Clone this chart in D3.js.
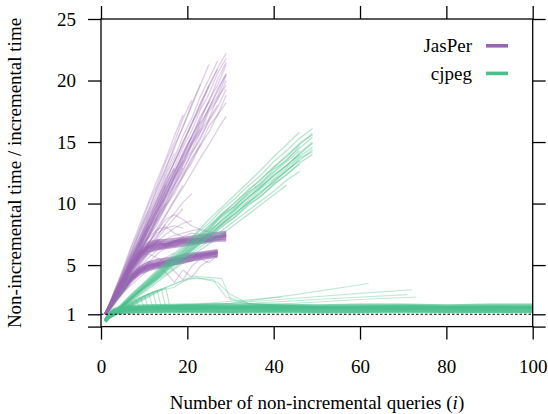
<!DOCTYPE html>
<html><head><meta charset="utf-8">
<script src="https://cdn.jsdelivr.net/npm/d3@7"></script>
<style>
html body svg#c text, html body svg#c tspan { font-family: "Liberation Serif" !important; }
</style>
</head><body style="margin:0;background:#fff">
<svg id="c" width="548" height="414" style="display:block" font-family="Liberation Serif">
<style>svg#c text, svg#c tspan { font-family: "Liberation Serif" !important; }</style>
</svg>
<script>
// ---------- data ----------
const xTicks = [0, 20, 40, 60, 80, 100];
const yTicks = [0, 1, 5, 10, 15, 20, 25];
const seriesNames = ["JasPer", "cjpeg"];

// JasPer runs sampled at these query counts
const jasperX = [1,3,5,7,9,11,13,15,17,19,21,23,25,27,29];
const jasperSteep = [
  [1,2.3,3.4,4.8,5.9,7.3,8.3,9.8,10.8,12.2,13.3,14.7,15.8,17.2,18.2],
  [1,2.2,3.7,4.8,6.3,7.4,8.9,10.0,11.5,12.6,14.1,15.2,16.7,17.8,19.3],
  [1,2.4,3.6,5.1,6.3,7.8,8.9,10.5,11.6,13.2,14.3,15.8,16.9,18.6,19.6],
  [1,2.3,3.9,5.0,6.6,7.8,9.4,10.5,12.1,13.3,14.9,16.0,17.7,18.7,20.4],
  [1,2.5,3.7,5.3,6.5,8.1,9.3,10.9,12.1,13.7,14.8,16.5,17.7,19.3,20.5],
  [1,2.4,3.9,5.3,6.8,8.1,9.7,11.0,12.6,13.9,15.5,16.7,18.4,19.6,21.3],
  [1,2.5,3.8,5.5,6.7,8.4,9.5,11.3,12.4,14.2,15.4,17.1,18.2,20.1,21.5],
  [1,2.6,3.9,5.6,6.9,8.6,9.9,11.6,12.9,14.6,15.9,17.6,18.9,20.6,21.8],
  [1,2.5,4.2,5.5,7.3,8.6,10.3,11.7,13.4,14.8,16.5,17.8,19.6,20.9],
  [1,2.7,4.1,5.9,7.3,9.1,10.5,12.3,13.7,15.5,16.9,18.7,20.1,21.6],
  [1,2.6,4.5,6.0,7.9,9.4,11.3,12.8,14.7,16.2,18.1,19.6,21.3],
  [1,2.8,4.4,6.4,8.0,9.9,11.5,13.4,15.0,16.9,18.4],
  [1,2.4,3.6,5.2,6.3,8.0,9.0,10.6,11.9,13.1,14.7,15.8,17.5,18.4,20.0],
  [1,2.2,3.6,4.7,6.1,7.2,8.6,9.7,11.2,12.2,13.7,14.7,16.3,17.2,18.8],
  [1,2.5,3.8,5.3,6.6,8.2,9.4,11.0,12.3,13.8,15.1,16.7],
  [1,2.6,4.0,5.8,7.1,8.9,10.2,12.0,13.3,15.0,16.4,18.1,19.5,21.0,22.2],
  [1,2.3,3.7,5.0,6.3,7.6,9.0,10.3,11.6,12.9],
  [1,2.5,4.0,5.4,7.0,8.4,9.9,11.4,12.8],
  [1,2.2,3.5,4.9,6.1,7.5,8.7,10.0],
  [1,2.5,4.0,5.6,7.0,8.5,10.0,11.5,12.9],
  [1,2.4,3.8,5.2,6.5,7.9,9.3,10.7,12.2,13.5],
  [1,2.3,3.6,4.9,6.2,7.4,8.8],
  [1,2.6,4.3,5.9,7.6,9.2,10.8,12.5,14.1],
  [1,2.1,3.3,4.5,5.6,6.8,8.0,9.1,10.3,11.5],
  [1,2.4,3.9,5.3,6.8,8.2],
  [1,2.8,4.6,6.5,8.3,10.1,11.9,13.6,15.5,17.2],
  [1,2.3,3.5,4.9,6.0,7.3,8.5,9.9,11.0,12.4,13.5,14.9],
  [1,2.5,3.9,5.4,6.8,8.2,9.7,11.1,12.6,14.0,15.4,16.9,18.3],
  [1,2.3,3.7,5.1,6.4,7.9,9.2,10.7,12.0,13.4,14.8,16.1],
  [1,2.4,3.8,5.3,6.7,8.2,9.6,11.1,12.5,14.0,15.4],
  [1,2.2,3.5,4.8,6.1,7.4,8.8,10.1,11.4,12.8,14.1,15.4,16.8,18.0],
  [1,2.6,4.1,5.7,7.2,8.8,10.3,11.9,13.4,15.0,16.5,18.1,19.6],
  [1,2.1,3.2,4.4,5.5,6.7,7.8,9.0,10.2,11.3,12.5,13.7,14.8,16.0,17.1],
  [1,2.5,3.9,5.5,6.9,8.5,9.9,11.5],
  [1,2.3,3.8,5.1,6.6,7.9,9.4,10.7,12.2,13.5,15.0,16.3,17.8,19.1,20.6],
  [1,2.7,4.3,6.1,7.7,9.5,11.1,12.9,14.5,16.3,17.9,19.7]
];
const jasperUpper = [
  [1,2.3,3.6,4.9,5.9,6.5,6.7,6.7,6.9,7.0,7.0,7.1,7.2,7.3,7.4],
  [1,2.2,3.5,4.7,5.7,6.2,6.4,6.5,6.6,6.8,6.8,6.9,7.0,7.1,7.2],
  [1,2.4,3.8,5.1,6.1,6.8,7.0,7.0,7.1,7.2,7.3,7.4,7.5,7.6,7.7],
  [1,2.3,3.6,4.8,5.8,6.4,6.5,6.6,6.7,6.8,6.9,7.0,7.0,7.2,7.3],
  [1,2.2,3.4,4.6,5.5,6.1,6.3,6.4,6.5,6.6,6.7,6.8,6.9,7.0,7.0],
  [1,2.4,3.7,5.0,6.0,6.6,6.9,6.8,6.9,7.1,7.1,7.2,7.4,7.4,7.6],
  [1,2.3,3.5,4.8,5.9,6.4,6.6,6.7,6.8,6.9,6.9,7.0,7.1,7.3,7.4],
  [1,2.3,3.7,4.9,5.8,6.5,6.8,6.6,6.9,7.0,7.1,7.1,7.3,7.3,7.5]
];
const jasperLower = [
  [1,2.1,3.1,4.0,4.6,4.9,5.1,5.2,5.4,5.5,5.7,5.8,5.9,6.0],
  [1,2.0,2.9,3.8,4.4,4.7,4.9,5.0,5.1,5.3,5.4,5.6,5.7,5.8],
  [1,2.2,3.3,4.2,4.8,5.2,5.4,5.5,5.6,5.8,5.9,6.0,6.1,6.2],
  [1,1.9,2.8,3.7,4.3,4.6,4.8,4.9,5.1,5.2,5.4,5.5,5.6,5.7],
  [1,2.1,3.2,4.1,4.7,5.0,5.2,5.3,5.5,5.6,5.8,5.9,6.0,6.1],
  [1,2.0,3.0,3.9,4.5,4.8,5.0,5.2,5.3,5.4,5.6,5.7,5.9,5.9],
  [1,2.1,3.1,4.0,4.6,5.0,5.1,5.3,5.4,5.5,5.7,5.8,5.9,6.1],
  [1,2.0,3.0,3.9,4.5,4.9,5.0,5.1,5.3,5.5,5.6,5.7,5.8,6.0]
];
const jasperOther = [
  [1,2.0,3.1,4.0,5.1,6.0,7.1,8.0,8.8,9.6],
  [1,2.1,3.2,4.3,5.2,6.4,7.3,8.4,9.2,10.1,10.8],
  [1,2.0,3.0,4.1,4.9,5.3,5.0,4.4,3.6,4.6,4.0,4.9,5.4],
  [1,2.2,3.3,4.4,5.3,5.9,5.6,5.2,4.5,3.8,4.9,5.5,5.2,5.8],
  [1,2.3,3.6,4.9,6.1,7.2,7.9,8.1,7.6,7.3,7.6,7.5],
  [1,2.1,3.4,4.6,5.8,6.8,7.8,8.7,9.1,8.7,8.2,7.9,7.7,7.6],
  [1,2.1,3.2,4.3,5.4,6.5,7.4,8.3],
  [1,2.2,3.4,4.6,5.7,6.8,7.6,8.0,8.2,8.0],
  [1,1.9,2.7,3.4,4.0,4.6,5.2,5.6,6.0],
  [1,2.0,2.9,3.8,4.5,5.2,5.9,6.4,6.9,7.3],
  [1,2.0,3.0,4.0,5.0,5.9,6.6,7.1,7.4,7.6,7.8,7.9],
  [1,2.1,3.2,4.2,5.2,6.1,6.9,7.5,8.0,8.4,8.6],
  [1,1.9,2.9,3.8,4.8,5.6,6.2,6.5,6.6]
];

// cjpeg runs
const cjpegX = [1,4,7,10,13,16,19,22,25,28,31,34,37,40,43,46,49];
const cjpegLinear = [
  [0.5,1.4,2.3,3.1,4.0,4.9,5.7,6.6,7.4,8.3,9.2,10.0,10.9,11.8,12.7,13.5,14.4],
  [0.5,1.5,2.4,3.3,4.3,5.2,6.1,7.1,8.0,9.0,9.8,10.8,11.7,12.6,13.6,14.5,15.4],
  [0.5,1.3,2.1,2.9,3.8,4.5,5.4,6.2,7.0,7.8,8.6,9.4,10.2,11.0,11.9,12.6],
  [0.5,1.5,2.6,3.5,4.5,5.5,6.4,7.5,8.4,9.5,10.4,11.4,12.3,13.4,14.3,15.3,16.1],
  [0.5,1.4,2.3,3.2,4.1,5.0,5.9,6.9,7.7,8.6,9.6,10.4,11.4,12.2,13.1,14.0,14.9],
  [0.5,1.3,2.2,3.0,3.9,4.7,5.6,6.4,7.3,8.1,8.9,9.8,10.6,11.5,12.4,13.2],
  [0.5,1.5,2.5,3.4,4.4,5.3,6.3,7.2,8.2,9.1,10.1,11.0,12.0,12.9,13.9,14.8,15.7],
  [0.5,1.3,2.1,2.8,3.6,4.4,5.2,6.0,6.7,7.5,8.3,9.1,9.9,10.7,11.5],
  [0.5,1.4,2.4,3.2,4.2,5.0,5.8,6.9,7.6,8.7,9.5,10.5,11.3,12.3,13.1,14.1,15.0],
  [0.5,1.5,2.3,3.4,4.2,5.3,6.0,7.2,7.9,9.1,9.8,10.9,11.6,12.8,13.5,14.7],
  [0.5,1.4,2.2,3.2,3.9,5.0,5.6,6.7,7.3,8.4,9.1,10.1,10.8,11.9,12.6,13.7,14.2],
  [0.5,1.6,2.6,3.6,4.6,5.6,6.6,7.6,8.7,9.7,10.7,11.7,12.7,13.8,14.8,15.8],
  [0.5,1.3,2.2,3.1,3.8,4.8,5.5,6.5,7.2,8.2,8.9,9.9,10.6,11.6,12.3,13.3,14.0],
  [0.5,1.4,2.3,3.3,4.1,5.1,5.9,6.8,7.8,8.6,9.5,10.5,11.3,12.3,13.1,14.0],
  [0.5,1.4,2.5,3.5,4.4,5.4,6.2,7.3,8.1,9.2,10.0,11.1,11.9,13.0,13.8,14.9,15.6],
  [0.5,1.3,2.3,3.1,4.0,4.8,5.8,6.5,7.5,8.3,9.2,10.0,11.0,11.7,12.7,13.5],
  [0.5,1.4,2.3,3.2,4.0,5.0,5.8,6.7,7.6,8.4,9.4,10.2,11.2,12.0,12.9,13.8,14.6],
  [0.5,1.4,2.4,3.3,4.3,5.1,6.1,7.0,7.9,8.9,9.7,10.7,11.5,12.5,13.4,14.3]
];
const cjpegFlatX = [1,2,3,5,10,20,30,40,50,60,70,80,90,100];
const cjpegFlat = [
  [0.45,0.9,1.15,1.3,1.4,1.45,1.45,1.4,1.45,1.4,1.45,1.4,1.4,1.45],
  [0.5,1.0,1.25,1.4,1.5,1.55,1.5,1.55,1.5,1.55,1.5,1.5,1.55,1.5],
  [0.4,0.85,1.1,1.2,1.25,1.3,1.25,1.3,1.25,1.25,1.3,1.25,1.25,1.25],
  [0.5,1.05,1.3,1.5,1.6,1.65,1.6,1.65,1.6,1.6,1.65,1.6,1.6,1.6],
  [0.45,0.95,1.2,1.35,1.45,1.5,1.5,1.5,1.5,1.45,1.5,1.5,1.45,1.5],
  [0.55,1.1,1.4,1.6,1.7,1.75,1.75,1.75,1.7,1.75,1.75,1.7,1.75,1.75],
  [0.4,0.8,1.05,1.15,1.2,1.25,1.2,1.25,1.2,1.2,1.25,1.2,1.25,1.2],
  [0.5,1.0,1.25,1.45,1.55,1.6,1.55,1.6,1.55,1.55,1.6,1.55,1.6,1.55]
];
const cjpegFan = [
  [[1,0.5],[5,1.75],[6,1.45],[20,1.5],[50,1.5],[100,1.5]],
  [[1,0.5],[6,1.9],[7,1.5],[25,1.55],[60,1.5],[100,1.55]],
  [[1,0.5],[7,2.05],[8,1.55],[30,1.6],[70,1.55],[100,1.55]],
  [[1,0.5],[8,2.2],[9,1.5],[30,1.5],[100,1.5]],
  [[1,0.5],[9,2.4],[10,1.6],[40,1.6],[100,1.6]],
  [[1,0.5],[10,2.55],[11,1.5],[40,1.5],[100,1.5]],
  [[1,0.5],[11,2.7],[12,1.6],[50,1.55],[100,1.6]],
  [[1,0.5],[12,2.85],[13,1.5],[50,1.5],[100,1.5]],
  [[1,0.5],[13,2.95],[14,1.55],[60,1.55],[100,1.55]],
  [[1,0.5],[14,3.05],[15,1.6],[60,1.6],[100,1.6]],
  [[1,0.5],[15,3.15],[16,1.55],[70,1.5],[100,1.5]]
];
const cjpegOther = [
  [[1,0.5],[8,2.2],[13,2.9],[17,3.2],[21,4.1],[25,4.0],[28,3.9],[30,2.2],[33,1.9],[40,1.7],[50,1.6]],
  [[1,0.5],[10,2.5],[16,3.3],[20,3.9],[24,3.9],[26,3.8],[29,2.4],[35,1.8],[45,1.7]],
  [[1,0.5],[12,2.8],[18,3.6],[22,4.0],[27,3.6],[30,2.6],[34,1.9],[42,1.7]],
  [[1,0.5],[4,1.4],[15,1.7],[30,1.9],[45,2.6],[62,3.5]],
  [[1,0.5],[4,1.4],[15,1.7],[30,1.9],[45,2.3],[60,2.7],[72,3.0]],
  [[1,0.5],[4,1.3],[15,1.6],[35,1.9],[55,2.3],[71,2.6]],
  [[1,0.5],[4,1.3],[20,1.6],[40,1.8],[60,2.2],[73,2.4]],
  [[1,0.5],[5,1.5],[14,1.6],[28,2.0],[42,2.4]],
  [[1,0.6],[3,1.8],[5,3.0],[7,4.3]]
];
const baseline = [[0,1],[100,1]];

// ---------- drawing ----------
const FONT = "Liberation Serif";
const colors = {JasPer: "#9966b3", cjpeg: "#4cbf8d"};
const svg = d3.select("#c");
const x = d3.scaleLinear().domain([0, 100]).range([101, 532.7]);
const y = d3.scaleLinear().domain([0, 25]).range([326.6, 19]);
const line = d3.line().x(d => x(d[0])).y(d => y(d[1]));

const plot = svg.append("g");
function drawRuns(runs, xs, color, op, w) {
  runs.forEach(r => {
    const pts = xs ? r.map((v, i) => [xs[i], v]) : r;
    plot.append("path").attr("d", line(pts))
      .attr("fill", "none").attr("stroke", color)
      .attr("stroke-opacity", op).attr("stroke-width", w)
      .attr("stroke-linejoin", "round");
  });
}
const P = colors.JasPer, G = colors.cjpeg;
drawRuns(jasperOther, jasperX, P, 0.32, 1.2);
drawRuns(jasperSteep, jasperX, P, 0.3, 1.4);
drawRuns(jasperUpper, jasperX, P, 0.6, 2.8);
drawRuns(jasperLower, jasperX, P, 0.6, 2.8);
drawRuns(cjpegLinear, cjpegX, G, 0.38, 1.4);
drawRuns(cjpegOther, null, G, 0.35, 1.1);
drawRuns(cjpegFan, null, G, 0.4, 1.1);
drawRuns(cjpegFlat, cjpegFlatX, G, 0.7, 3);

svg.append("path").attr("d", line(baseline)).attr("fill", "none")
  .attr("stroke", "#000").attr("stroke-width", 1.1).attr("stroke-dasharray", "2.5,2");

const fmt = d => d === 0 ? "" : d;
function styleAxis(g) {
  g.attr("font-family", FONT).attr("font-size", 19);
  g.select(".domain").remove();
  g.selectAll(".tick line").attr("stroke", "#000").attr("stroke-width", 1.3);
  g.selectAll("text").attr("font-family", FONT).attr("font-size", 19).attr("fill", "#000");
}
svg.append("g").attr("transform", "translate(101,0)")
  .call(d3.axisLeft(y).tickValues(yTicks).tickFormat(fmt).tickSize(13).tickPadding(12))
  .call(styleAxis);
svg.append("g").attr("transform", "translate(532.7,0)")
  .call(d3.axisRight(y).tickValues(yTicks).tickFormat("").tickSize(13))
  .call(styleAxis);
svg.append("g").attr("transform", "translate(0,326.6)")
  .call(d3.axisBottom(x).tickValues(xTicks).tickSize(13).tickPadding(20))
  .call(styleAxis);
svg.append("g").attr("transform", "translate(0,19)")
  .call(d3.axisTop(x).tickValues(xTicks).tickFormat("").tickSize(13))
  .call(styleAxis);

svg.append("rect").attr("x", x(0)).attr("y", y(25))
  .attr("width", x(100) - x(0)).attr("height", y(0) - y(25))
  .attr("fill", "none").attr("stroke", "#000").attr("stroke-width", 1.3);

const xt = svg.append("text").attr("x", 317).attr("y", 409)
  .attr("text-anchor", "middle").attr("font-size", 19).attr("font-family", FONT);
xt.append("tspan").text("Number of non-incremental queries (");
xt.append("tspan").attr("font-style", "italic").text("i");
xt.append("tspan").text(")");
svg.append("text").attr("transform", "translate(21,173) rotate(-90)")
  .attr("text-anchor", "middle").attr("font-size", 19).attr("font-family", FONT)
  .text("Non-incremental time / incremental time");

seriesNames.forEach((name, i) => {
  const ly = 45.8 + i * 27.6;
  svg.append("text").attr("x", 472).attr("y", ly + 6.5)
    .attr("text-anchor", "end").attr("font-size", 19).attr("font-family", FONT).text(name);
  svg.append("line").attr("x1", 486).attr("x2", 508).attr("y1", ly).attr("y2", ly)
    .attr("stroke", colors[name]).attr("stroke-width", 3.6);
});
</script>
</body></html>
